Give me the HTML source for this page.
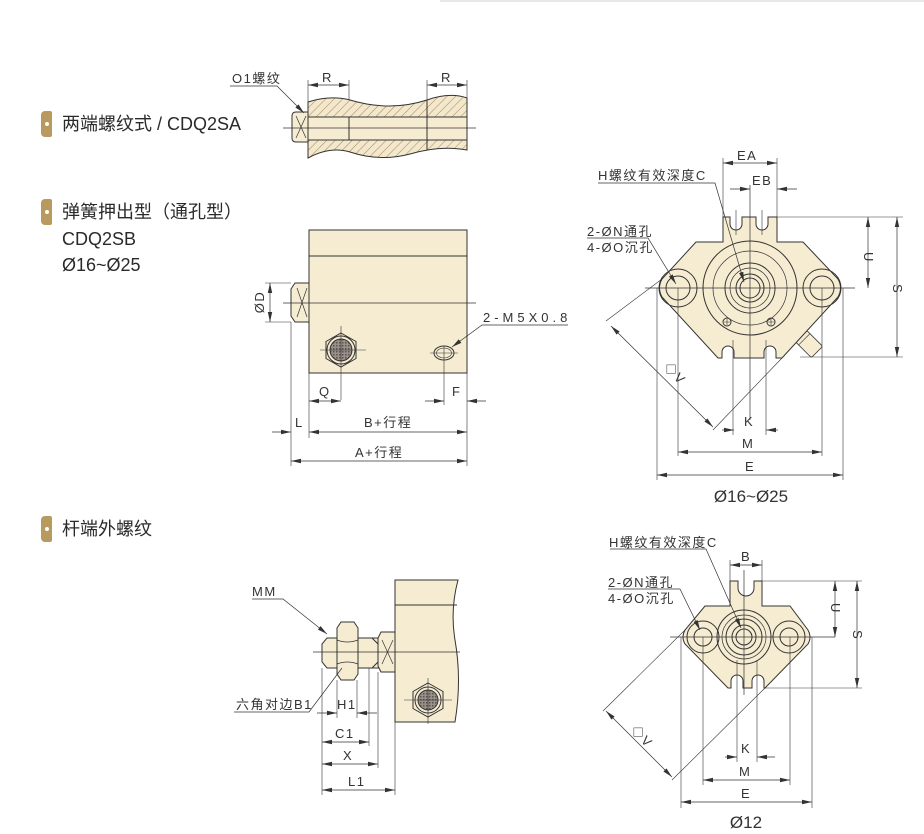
<!DOCTYPE html>
<html><head><meta charset="utf-8"><style>
html,body{margin:0;padding:0;background:#fff;}
body{width:924px;height:834px;position:relative;overflow:hidden;font-family:"Liberation Sans","Noto Sans CJK SC",sans-serif;}
.t{position:absolute;color:#2a2a2a;font-size:18px;line-height:1;white-space:nowrap;}
.b{position:absolute;left:41px;width:11px;height:26px;background:#b89a5e;border-radius:4px 2px 2px 4px;}
.b::after{content:"";position:absolute;left:4px;top:11px;width:4px;height:4px;border-radius:2px;background:#fff;}
.topbar{position:absolute;left:440px;top:0;width:484px;height:2px;background:#e8e8e8;}
</style></head><body>
<div class="topbar"></div>
<div class="b" style="top:111px"></div>
<div class="t" style="left:62px;top:115px">两端螺纹式 / CDQ2SA</div>
<div class="b" style="top:199px"></div>
<div class="t" style="left:62px;top:203px">弹簧押出型（通孔型）</div>
<div class="t" style="left:62px;top:230px">CDQ2SB</div>
<div class="t" style="left:62px;top:256px">Ø16~Ø25</div>
<div class="b" style="top:516px"></div>
<div class="t" style="left:62px;top:520px">杆端外螺纹</div>

<svg width="924" height="834" style="position:absolute;left:0;top:0" font-family="Liberation Sans, Noto Sans CJK SC, sans-serif">
<defs>
<pattern id="h" width="6" height="6" patternUnits="userSpaceOnUse" patternTransform="rotate(45)"><rect width="6" height="6" fill="#f4e8cc"/><line x1="0" y1="0" x2="0" y2="6" stroke="#a08660" stroke-width="1"/></pattern>
<pattern id="m" width="3" height="3" patternUnits="userSpaceOnUse"><rect width="3" height="3" fill="#9a9088"/><rect width="1.5" height="1.5" fill="#555"/></pattern>
<marker id="a" markerWidth="10" markerHeight="6" refX="10" refY="3" orient="auto-start-reverse" markerUnits="userSpaceOnUse"><path d="M0,0.8 L10,3 L0,5.2z" fill="#333"/></marker>
</defs>
<g stroke="#333" stroke-width="1" fill="none" font-size="12" >
<!-- TOP: CDQ2SA section -->
<path d="M308,102 Q330,95 350,100 Q390,112 427,100 Q450,92 467,98 L467,150 Q440,145 410,154 Q380,162 350,152 Q330,146 308,158 Z" fill="url(#h)"/>
<rect x="308" y="117" width="159" height="23" fill="#f6ecd2"/>
<line x1="349" y1="117" x2="349" y2="140"/><line x1="427" y1="100" x2="427" y2="150"/>
<path d="M296,112 L308,112 L308,142 L296,142 Q292,142 292,138 L292,116 Q292,112 296,112Z" fill="#f6ecd2"/>
<path d="M296,116 L306,138 M306,116 L296,138" stroke-width="0.7"/>
<line x1="283" y1="128" x2="476" y2="128" stroke-width="0.8"/>
<line x1="308" y1="80" x2="308" y2="102" stroke-width="0.6"/><line x1="349" y1="80" x2="349" y2="100" stroke-width="0.6"/>
<line x1="427" y1="80" x2="427" y2="100" stroke-width="0.6"/><line x1="467" y1="80" x2="467" y2="98" stroke-width="0.6"/>
<line x1="308" y1="85" x2="349" y2="85" marker-start="url(#a)" marker-end="url(#a)" stroke-width="0.7"/>
<line x1="427" y1="85" x2="467" y2="85" marker-start="url(#a)" marker-end="url(#a)" stroke-width="0.7"/>
<polyline points="230,86 277,86 304,113" stroke-width="0.7" marker-end="url(#a)"/>
<!-- MIDDLE block -->
<rect x="309" y="230" width="158" height="143" fill="#f6ecd2"/>
<line x1="309" y1="256" x2="467" y2="256"/>
<path d="M295,283 L309,283 L309,322 L295,322 L291,316 L291,289Z" fill="#f6ecd2"/>
<path d="M297,288 L307,317 M307,288 L297,317" stroke-width="0.7"/>
<line x1="283" y1="303" x2="476" y2="303" stroke-width="0.8"/>
<polygon points="341,333 356,341.5 356,358.5 341,367 326,358.5 326,341.5" fill="#f6ecd2"/>
<circle cx="341" cy="350" r="14"/><circle cx="341" cy="350" r="11" fill="url(#m)"/>
<line x1="320" y1="350" x2="366" y2="350" stroke-width="0.6"/><line x1="341" y1="326" x2="341" y2="400" stroke-width="0.6"/>
<ellipse cx="444" cy="353" rx="10" ry="7"/><ellipse cx="444" cy="353" rx="7.5" ry="5" stroke-width="0.6"/>
<line x1="430" y1="353" x2="458" y2="353" stroke-width="0.6"/><line x1="444" y1="346" x2="444" y2="405" stroke-width="0.6"/>
<polyline points="568,325 482,325 452,347" stroke-width="0.7" marker-end="url(#a)"/>
<line x1="265" y1="283" x2="291" y2="283" stroke-width="0.6"/><line x1="265" y1="322" x2="291" y2="322" stroke-width="0.6"/>
<line x1="270" y1="283" x2="270" y2="322" marker-start="url(#a)" marker-end="url(#a)" stroke-width="0.7"/>
<line x1="309" y1="373" x2="309" y2="438" stroke-width="0.6"/><line x1="467" y1="373" x2="467" y2="466" stroke-width="0.6"/>
<line x1="291" y1="322" x2="291" y2="466" stroke-width="0.6"/>
<line x1="309" y1="401" x2="341" y2="401" marker-start="url(#a)" marker-end="url(#a)" stroke-width="0.7"/>
<line x1="425" y1="401" x2="444" y2="401" marker-end="url(#a)" stroke-width="0.7"/>
<line x1="486" y1="401" x2="467" y2="401" marker-end="url(#a)" stroke-width="0.7"/>
<line x1="272" y1="432" x2="291" y2="432" marker-end="url(#a)" stroke-width="0.7"/>
<line x1="309" y1="432" x2="467" y2="432" marker-start="url(#a)" marker-end="url(#a)" stroke-width="0.7"/>
<line x1="291" y1="461" x2="467" y2="461" marker-start="url(#a)" marker-end="url(#a)" stroke-width="0.7"/>
<!-- RIGHT TOP view -->
<g transform="rotate(45 805 340)"><rect x="788" y="332" width="34" height="16" rx="2" fill="#f6ecd2" stroke-width="0.8"/><line x1="796" y1="332" x2="796" y2="348" stroke-width="0.6"/><line x1="804" y1="332" x2="804" y2="348" stroke-width="0.6"/></g>
<path d="M723,242 L723,217 L730,217 L730,224 A6,6 0 0 0 742,224 L742,217 L756,217 L756,224 A6,6 0 0 0 768,224 L768,217 L777,217 L777,242 L803,242 L838,279 Q843,288 838,297 L782,358 L776,358 L776,352 A6,6 0 0 0 764,352 L764,358 L734,358 L734,352 A6,6 0 0 0 722,352 L722,358 L718,358 L662,297 Q657,288 662,279 L696,242 Z" fill="#f6ecd2"/>
<circle cx="678" cy="288" r="19"/><circle cx="678" cy="288" r="12"/>
<circle cx="822" cy="288" r="19"/><circle cx="822" cy="288" r="12"/>
<circle cx="750" cy="288" r="47"/><circle cx="750" cy="288" r="37" stroke-width="0.7"/>
<circle cx="750" cy="288" r="25"/><circle cx="750" cy="288" r="20" stroke-width="0.7"/>
<circle cx="750" cy="288" r="14"/><circle cx="750" cy="288" r="10"/>
<circle cx="727" cy="322" r="4"/><circle cx="771" cy="322" r="4"/>
<path d="M724,322h6M727,319v6M768,322h6M771,319v6" stroke-width="0.6"/>
<line x1="645" y1="288" x2="855" y2="288" stroke-width="0.7"/>
<line x1="750" y1="185" x2="750" y2="420" stroke-width="0.7"/>
<line x1="736" y1="210" x2="736" y2="235" stroke-width="0.6"/><line x1="762" y1="210" x2="762" y2="235" stroke-width="0.6"/>
<line x1="733" y1="340" x2="733" y2="435" stroke-width="0.6"/><line x1="766" y1="340" x2="766" y2="435" stroke-width="0.6"/>
<line x1="723" y1="158" x2="723" y2="217" stroke-width="0.6"/><line x1="777" y1="158" x2="777" y2="217" stroke-width="0.6"/>
<line x1="723" y1="163" x2="777" y2="163" marker-start="url(#a)" marker-end="url(#a)" stroke-width="0.7"/>
<line x1="730" y1="189" x2="750" y2="189" marker-end="url(#a)" stroke-width="0.7"/>
<line x1="797" y1="189" x2="777" y2="189" marker-end="url(#a)" stroke-width="0.7"/>
<line x1="777" y1="217" x2="903" y2="217" stroke-width="0.6"/><line x1="800" y1="357" x2="903" y2="357" stroke-width="0.6"/>
<line x1="868" y1="217" x2="868" y2="288" marker-start="url(#a)" marker-end="url(#a)" stroke-width="0.7"/>
<line x1="897" y1="217" x2="897" y2="357" marker-start="url(#a)" marker-end="url(#a)" stroke-width="0.7"/>
<line x1="657" y1="288" x2="657" y2="480" stroke-width="0.6"/><line x1="843" y1="288" x2="843" y2="480" stroke-width="0.6"/>
<line x1="678" y1="288" x2="678" y2="456" stroke-width="0.6"/><line x1="822" y1="288" x2="822" y2="456" stroke-width="0.6"/>
<line x1="722" y1="430" x2="734" y2="430" marker-end="url(#a)" stroke-width="0.7"/>
<line x1="778" y1="430" x2="766" y2="430" marker-end="url(#a)" stroke-width="0.7"/>
<line x1="678" y1="452" x2="822" y2="452" marker-start="url(#a)" marker-end="url(#a)" stroke-width="0.7"/>
<line x1="657" y1="475" x2="843" y2="475" marker-start="url(#a)" marker-end="url(#a)" stroke-width="0.7"/>
<line x1="662" y1="279" x2="606" y2="321" stroke-width="0.6"/><line x1="782" y1="358" x2="713" y2="430" stroke-width="0.6"/>
<line x1="611" y1="326" x2="713" y2="427" marker-start="url(#a)" marker-end="url(#a)" stroke-width="0.7"/>
<polyline points="598,183 715,183 744,282" stroke-width="0.7" marker-end="url(#a)"/>
<polyline points="587,238 648,238 676,284" stroke-width="0.7" marker-end="url(#a)"/>
<!-- BOTTOM RIGHT view -->
<path d="M730,606 L730,581 L738,581 L738,588 A8,8 0 0 0 754,588 L754,581 L762,581 L762,606 L790,606 L808,630 Q812,637 808,644 L765,688 L764,688 L764,681 A6,6 0 0 0 752,681 L752,688 L743,688 L743,681 A6,6 0 0 0 731,681 L731,688 L728,688 L685,644 Q681,637 685,630 L705,606 Z" fill="#f6ecd2"/>
<circle cx="703" cy="637" r="16"/><circle cx="703" cy="637" r="9"/>
<circle cx="789" cy="637" r="16"/><circle cx="789" cy="637" r="9"/>
<circle cx="744" cy="637" r="27"/><circle cx="744" cy="637" r="22" stroke-width="0.7"/>
<circle cx="744" cy="637" r="18"/><circle cx="744" cy="637" r="12"/><circle cx="744" cy="637" r="8"/>
<line x1="670" y1="637" x2="835" y2="637" stroke-width="0.7"/>
<line x1="744" y1="570" x2="744" y2="695" stroke-width="0.7"/>
<line x1="737" y1="660" x2="737" y2="762" stroke-width="0.6"/><line x1="757" y1="660" x2="757" y2="762" stroke-width="0.6"/>
<line x1="730" y1="560" x2="730" y2="581" stroke-width="0.6"/><line x1="762" y1="560" x2="762" y2="581" stroke-width="0.6"/>
<line x1="730" y1="565" x2="762" y2="565" marker-start="url(#a)" marker-end="url(#a)" stroke-width="0.7"/>
<line x1="762" y1="581" x2="862" y2="581" stroke-width="0.6"/><line x1="765" y1="688" x2="862" y2="688" stroke-width="0.6"/>
<line x1="835" y1="581" x2="835" y2="637" marker-start="url(#a)" marker-end="url(#a)" stroke-width="0.7"/>
<line x1="857" y1="581" x2="857" y2="688" marker-start="url(#a)" marker-end="url(#a)" stroke-width="0.7"/>
<line x1="681" y1="637" x2="681" y2="808" stroke-width="0.6"/><line x1="812" y1="637" x2="812" y2="808" stroke-width="0.6"/>
<line x1="703" y1="637" x2="703" y2="785" stroke-width="0.6"/><line x1="790" y1="637" x2="790" y2="785" stroke-width="0.6"/>
<line x1="725" y1="757" x2="737" y2="757" marker-end="url(#a)" stroke-width="0.7"/>
<line x1="775" y1="757" x2="757" y2="757" marker-end="url(#a)" stroke-width="0.7"/>
<line x1="703" y1="780" x2="790" y2="780" marker-start="url(#a)" marker-end="url(#a)" stroke-width="0.7"/>
<line x1="681" y1="802" x2="812" y2="802" marker-start="url(#a)" marker-end="url(#a)" stroke-width="0.7"/>
<line x1="685" y1="630" x2="603" y2="711" stroke-width="0.6"/><line x1="765" y1="688" x2="672" y2="780" stroke-width="0.6"/>
<line x1="606" y1="711" x2="672" y2="777" marker-start="url(#a)" marker-end="url(#a)" stroke-width="0.7"/>
<polyline points="610,549 706,549 741,628" stroke-width="0.7" marker-end="url(#a)"/>
<polyline points="608,589 680,589 700,630" stroke-width="0.7" marker-end="url(#a)"/>
<!-- BOTTOM LEFT -->
<path d="M395,580 L458,580 Q450,610 455,640 Q462,680 455,722 L395,722Z" fill="#f6ecd2"/>
<line x1="395" y1="605" x2="457" y2="605"/>
<polygon points="428,683 443,691.5 443,708.5 428,717 413,708.5 413,691.5" fill="#f6ecd2"/>
<circle cx="428" cy="700" r="13"/><circle cx="428" cy="700" r="10" fill="url(#m)"/>
<line x1="404" y1="700" x2="452" y2="700" stroke-width="0.6"/><line x1="428" y1="678" x2="428" y2="724" stroke-width="0.6"/>
<path d="M327,638 L379,638 L379,668 L327,668 L322,662 L322,644Z" fill="#f6ecd2"/>
<path d="M372,638 L378,644 L378,662 L372,668" />
<path d="M381,632 L395,632 L395,672 L381,672 L378,666 L378,638Z" fill="#f6ecd2"/>
<path d="M382,640 L393,664 M393,640 L382,664" stroke-width="0.7"/>
<path d="M341,622 L354,622 L358,628 L358,674 L354,680 L341,680 L337,674 L337,628Z" fill="#f6ecd2"/>
<path d="M337,640 Q347,644 358,640 M337,664 Q347,660 358,664" stroke-width="0.7"/>
<line x1="313" y1="652" x2="460" y2="652" stroke-width="0.7"/>
<line x1="322" y1="668" x2="322" y2="795" stroke-width="0.6"/><line x1="337" y1="680" x2="337" y2="718" stroke-width="0.6"/>
<line x1="357" y1="680" x2="357" y2="718" stroke-width="0.6"/><line x1="369" y1="668" x2="369" y2="746" stroke-width="0.6"/>
<line x1="378" y1="672" x2="378" y2="768" stroke-width="0.6"/><line x1="395" y1="722" x2="395" y2="795" stroke-width="0.6"/>
<line x1="317" y1="713" x2="337" y2="713" marker-end="url(#a)" stroke-width="0.7"/>
<line x1="377" y1="713" x2="357" y2="713" marker-end="url(#a)" stroke-width="0.7"/>
<line x1="322" y1="742" x2="369" y2="742" marker-start="url(#a)" marker-end="url(#a)" stroke-width="0.7"/>
<line x1="322" y1="764" x2="378" y2="764" marker-start="url(#a)" marker-end="url(#a)" stroke-width="0.7"/>
<line x1="322" y1="790" x2="395" y2="790" marker-start="url(#a)" marker-end="url(#a)" stroke-width="0.7"/>
<polyline points="252,599 283,599 327,634" stroke-width="0.7" marker-end="url(#a)"/>
<polyline points="234,712 309,712 342,668" stroke-width="0.7"/>
</g>
<g fill="#333" font-size="13" letter-spacing="1.5">
<text x="232" y="83">O1螺纹</text>
<text x="322" y="82">R</text><text x="441" y="82">R</text>
<text x="483" y="322" letter-spacing="4">2-M5X0.8</text>
<text x="264" y="302" transform="rotate(-90 264 302)" text-anchor="middle">ØD</text>
<text x="319" y="396">Q</text><text x="452" y="396">F</text>
<text x="295" y="427">L</text><text x="364" y="427">B+行程</text><text x="355" y="457">A+行程</text>
<text x="737" y="160">EA</text><text x="752" y="185">EB</text>
<text x="598" y="180">H螺纹有效深度C</text>
<text x="587" y="236">2-ØN通孔</text><text x="587" y="252">4-ØO沉孔</text>
<text x="864" y="252" transform="rotate(90 864 252)">U</text>
<text x="893" y="284" transform="rotate(90 893 284)">S</text>
<text x="663" y="368" transform="rotate(45 663 368)">◇V</text>
<text x="744" y="426">K</text><text x="742" y="448">M</text><text x="745" y="471">E</text>
<text x="751" y="502" font-size="17" letter-spacing="0" text-anchor="middle">Ø16~Ø25</text>
<text x="609" y="547">H螺纹有效深度C</text>
<text x="608" y="587">2-ØN通孔</text><text x="608" y="603">4-ØO沉孔</text>
<text x="741" y="561">B</text>
<text x="831" y="603" transform="rotate(90 831 603)">U</text>
<text x="853" y="630" transform="rotate(90 853 630)">S</text>
<text x="630" y="731" transform="rotate(45 630 731)">◇V</text>
<text x="741" y="753">K</text><text x="739" y="776">M</text><text x="741" y="798">E</text>
<text x="746" y="828" font-size="17" letter-spacing="0" text-anchor="middle">Ø12</text>
<text x="252" y="596">MM</text>
<text x="236" y="709">六角对边B1</text>
<text x="337" y="709">H1</text><text x="335" y="738">C1</text><text x="343" y="760">X</text><text x="348" y="786">L1</text>
</g>
</svg>
</body></html>
